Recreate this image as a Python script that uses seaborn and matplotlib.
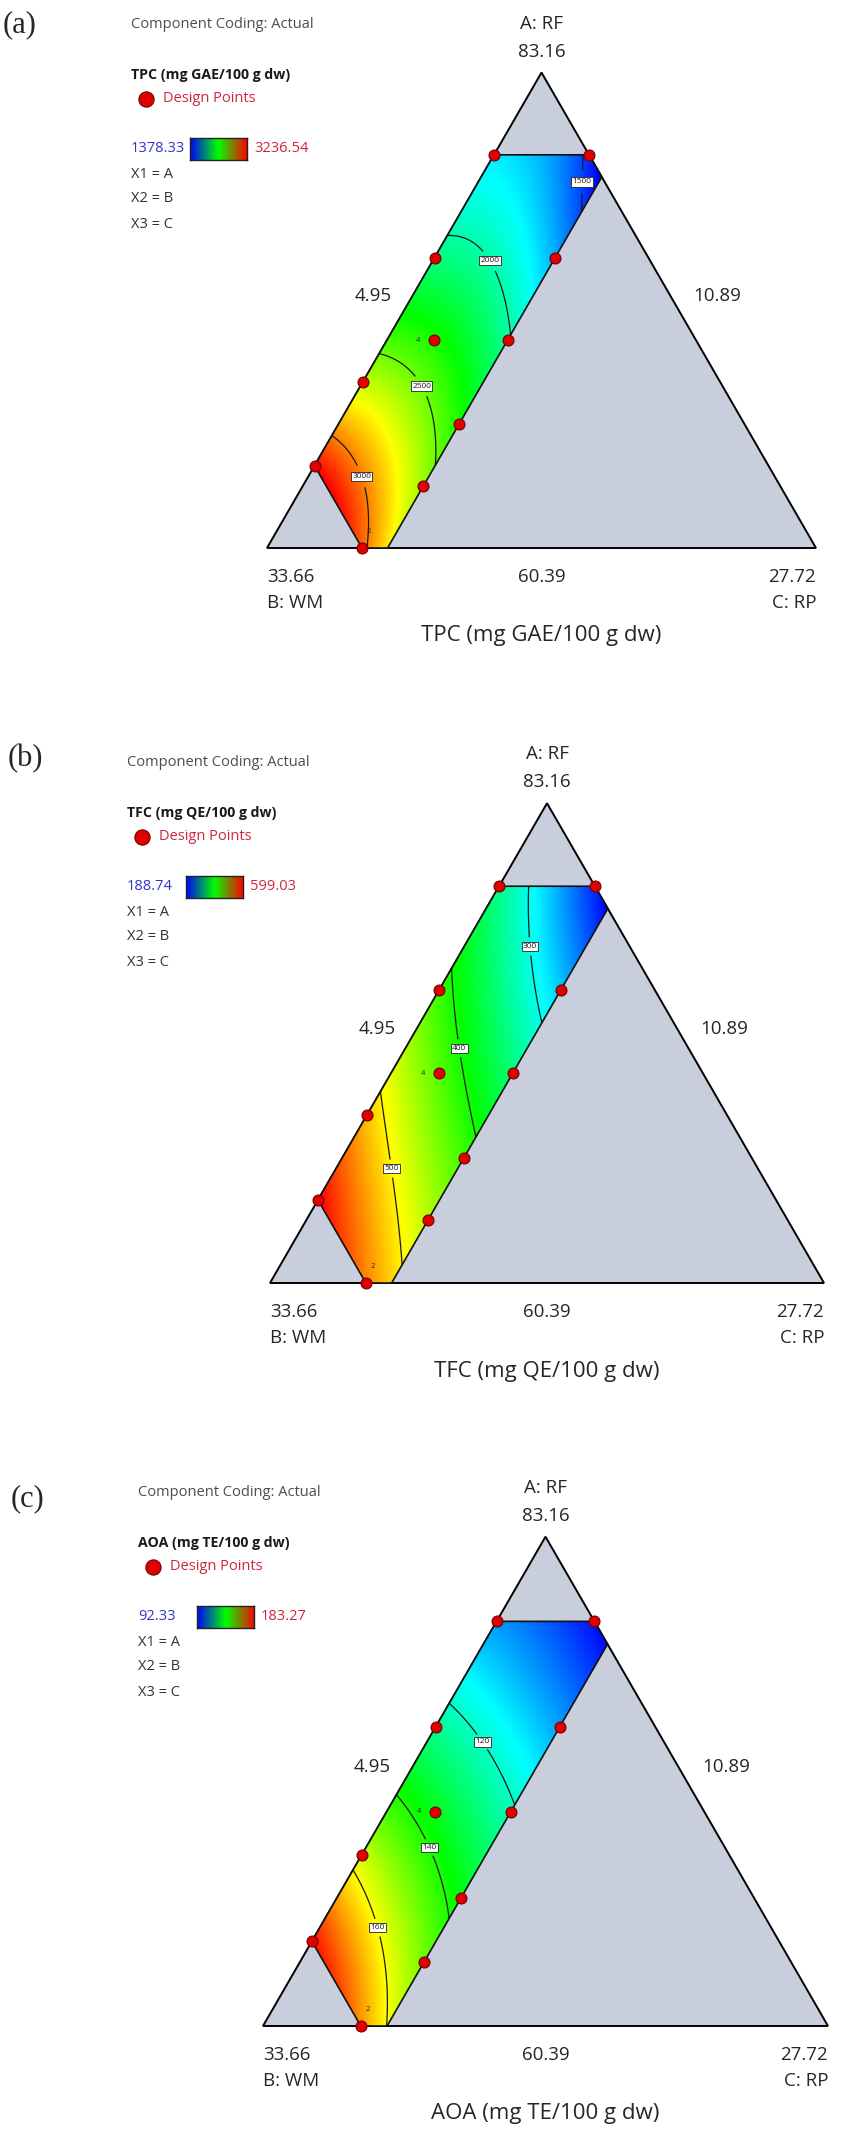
import numpy as np
import pandas as pd
import seaborn as sns
import matplotlib
matplotlib.use("Agg")
import matplotlib.pyplot as plt
from matplotlib.colors import LinearSegmentedColormap
from matplotlib.patches import Polygon

sns.set_theme(style="white")
plt.rcParams["font.family"] = ["Open Sans", "DejaVu Sans"]

W_PX, H_PX = 851, 2147
SQ = np.sqrt(3) / 2

# mixture bounds (actual units, total 99)
TOTAL = 99.0
LOWS = [60.39, 10.89, 4.95]
HIGHS = [79.22, 29.72, 9.95]
RNG = TOTAL - sum(LOWS)

# design points (actual amounts of A, B, C)
A_pts = [79.22, 79.22, 74.30, 74.30, 70.35, 70.35, 68.36, 66.33, 64.34, 63.37, 60.39]
B_pts = [14.83, 10.89, 19.75, 14.75, 21.75, 18.70, 25.69, 22.72, 29.71, 25.68, 29.72]
C_pts = [4.95, 8.89, 4.95, 9.95, 6.90, 9.95, 4.95, 9.95, 4.95, 9.95, 8.89]

# special-cubic model coefficients in pseudo components: a, b, c, ab, ac, bc, abc
coef_tpc = [1736.6, 3888.8, -2335.8, -2104.2, 3000.0, 1643.0, 10419.2]
coef_tfc = [286.7, 681.3, 335.5, -99.9, -628.4, -538.3, 861.9]
coef_aoa = [95.6, 211.6, 69.1, -67.3, 20.0, -119.6, 267.9]

levels_tpc = [1500, 2000, 2500, 3000]
levels_tfc = [300, 400, 500]
levels_aoa = [120, 140, 160]

panels = [
    dict(tag="(a)", resp="TPC (mg GAE/100 g dw)", lo="1378.33", hi="3236.54",
         vmin=1378.33, vmax=3236.54, levels=levels_tpc, coef=coef_tpc,
         lab=[(0.5665, 0.667), (0.412, 0.527), (0.287, 0.298), (0.1735, 0.131)],
         x0=267, base=548, w=549, lx=131, ly=24, tagx=3, tagy=25),
    dict(tag="(b)", resp="TFC (mg QE/100 g dw)", lo="188.74", hi="599.03",
         vmin=188.74, vmax=599.03, levels=levels_tfc, coef=coef_tfc,
         lab=[(0.474, 0.608), (0.345, 0.424), (0.216, 0.206)],
         x0=270, base=1283, w=554, lx=127, ly=762, tagx=8, tagy=759),
    dict(tag="(c)", resp="AOA (mg TE/100 g dw)", lo="92.33", hi="183.27",
         vmin=92.33, vmax=183.27, levels=levels_aoa, coef=coef_aoa,
         lab=[(0.3985, 0.51), (0.29, 0.314), (0.199, 0.173)],
         x0=263, base=2026, w=565, lx=138, ly=1492, tagx=11, tagy=1499),
]

surf_cmap = LinearSegmentedColormap.from_list(
    "de", ["#0000ff", "#00ffff", "#00ff00", "#ffff00", "#ff0000"])
bar_cmap = LinearSegmentedColormap.from_list("bar", ["#0000ff", "#00ff00", "#ff0000"])

fig = plt.figure(figsize=(W_PX / 100, H_PX / 100), dpi=100)
ov = fig.add_axes([0, 0, 1, 1])
ov.set_xlim(0, W_PX)
ov.set_ylim(H_PX, 0)
ov.axis("off")

am = (HIGHS[0] - LOWS[0]) / RNG
bm = (HIGHS[1] - LOWS[1]) / RNG
cm = (HIGHS[2] - LOWS[2]) / RNG
region = [(am, 0), (am, 1 - am), (1 - cm, cm), (0, cm), (0, 1 - bm), (1 - bm, 0)]  # (a, c)
region_xy = [(c + a / 2, a * SQ) for a, c in region]

pa = (np.array(A_pts) - LOWS[0]) / RNG
pc = (np.array(C_pts) - LOWS[2]) / RNG
pts = pd.DataFrame({"x": pc + pa / 2, "y": pa * SQ})

gx = np.linspace(0, 1, 700)
gy = np.linspace(0, SQ, 620)
X, Y = np.meshgrid(gx, gy)
GA = Y / SQ
GC = X - GA / 2
GB = 1 - GA - GC
inside = ((GA > -0.02) & (GA < am + 0.02) & (GB > -0.02) & (GB < bm + 0.02)
          & (GC > -0.02) & (GC < cm + 0.02))

for p in panels:
    h = p["w"] * SQ
    ax = fig.add_axes([p["x0"] / W_PX, 1 - p["base"] / H_PX, p["w"] / W_PX, h / H_PX])
    ax.set_xlim(0, 1)
    ax.set_ylim(0, SQ)
    ax.axis("off")
    ax.add_patch(Polygon([(0, 0), (1, 0), (0.5, SQ)], closed=True, fc="#c8cedc",
                         ec="black", lw=1.4, clip_on=False, zorder=1))
    k = p["coef"]
    Z = (k[0] * GA + k[1] * GB + k[2] * GC + k[3] * GA * GB + k[4] * GA * GC
         + k[5] * GB * GC + k[6] * GA * GB * GC)
    clip = Polygon(region_xy, closed=True, transform=ax.transData)
    im = ax.imshow(Z, extent=(0, 1, 0, SQ), origin="lower", cmap=surf_cmap,
                   vmin=p["vmin"], vmax=p["vmax"], aspect="auto", zorder=2,
                   interpolation="bilinear")
    im.set_clip_path(clip)
    Zm = np.ma.masked_where(~inside, Z)
    cs = ax.contour(X, Y, Zm, levels=p["levels"], colors="#1a1a1a", linewidths=0.9, zorder=3)
    cs.set_clip_path(clip)
    labels = ax.clabel(cs, fmt="%d", fontsize=6, inline=True, inline_spacing=2, manual=p["lab"])
    for t in labels:
        t.set_rotation(0)
        t.set_bbox(dict(boxstyle="square,pad=0.15", fc="white", ec="#222222", lw=0.6))
        t.set_zorder(6)
    ax.add_patch(Polygon(region_xy, closed=True, fill=False, ec="#111111", lw=1.2,
                         zorder=4, clip_on=False))
    sns.scatterplot(data=pts, x="x", y="y", ax=ax, s=62, color="#e00000", edgecolor="#700000",
                    linewidth=0.8, zorder=7, clip_on=False, legend=False)
    ax.text(pts.x[4] - 0.025, pts.y[4], "4", fontsize=5.5, ha="right", va="center", zorder=7)
    ax.text(pts.x[10] + 0.012, pts.y[10] + 0.03, "2", fontsize=5.5, ha="center", va="center", zorder=7)
    ax.set_xlim(0, 1)
    ax.set_ylim(0, SQ)

    # vertex / edge labels
    x0, base, w = p["x0"], p["base"], p["w"]
    xm = x0 + w / 2
    top = base - h
    fs = 13.5
    ov.text(xm, top - 49, "A: RF", ha="center", va="center", fontsize=fs)
    ov.text(xm, top - 21, "83.16", ha="center", va="center", fontsize=fs)
    ov.text(x0 + w * 0.193, top + h * 0.47, "4.95", ha="center", va="center", fontsize=fs)
    ov.text(x0 + w * 0.82, top + h * 0.47, "10.89", ha="center", va="center", fontsize=fs)
    ov.text(x0, base + 29, "33.66", ha="left", va="center", fontsize=fs)
    ov.text(x0, base + 55, "B: WM", ha="left", va="center", fontsize=fs)
    ov.text(xm, base + 29, "60.39", ha="center", va="center", fontsize=fs)
    ov.text(x0 + w, base + 29, "27.72", ha="right", va="center", fontsize=fs)
    ov.text(x0 + w, base + 55, "C: RP", ha="right", va="center", fontsize=fs)
    ov.text(xm, base + 88, p["resp"], ha="center", va="center", fontsize=16)

    # legend block
    lx, ly = p["lx"], p["ly"]
    ov.text(p["tagx"], p["tagy"], p["tag"], ha="left", va="center", fontsize=22,
            family=["Liberation Serif", "DejaVu Serif"])
    ov.text(lx, ly, "Component Coding: Actual", ha="left", va="center", fontsize=10.5, color="#4d4d4d")
    ov.text(lx, ly + 51, p["resp"], ha="left", va="center", fontsize=10.2,
            fontweight="bold", color="#1a1a1a")
    ov.scatter([lx + 15], [ly + 75], s=120, color="#e00000", edgecolor="#700000", linewidth=0.8)
    ov.text(lx + 32, ly + 75, "Design Points", ha="left", va="center", fontsize=10.5, color="#d0253f")
    ov.text(lx, ly + 125, p["lo"], ha="left", va="center", fontsize=10.5, color="#3333cc")
    bx0 = lx + 59
    cax = fig.add_axes([bx0 / W_PX, 1 - (ly + 136) / H_PX, 57 / W_PX, 22 / H_PX])
    cax.imshow(np.linspace(0, 1, 256)[None, :], cmap=bar_cmap, aspect="auto")
    cax.set_xticks([])
    cax.set_yticks([])
    for s in cax.spines.values():
        s.set_color("#222222")
        s.set_linewidth(1)
    ov.text(bx0 + 64, ly + 125, p["hi"], ha="left", va="center", fontsize=10.5, color="#d0253f")
    for i, s in enumerate(["X1 = A", "X2 = B", "X3 = C"]):
        ov.text(lx, ly + 150 + 25 * i, s, ha="left", va="center", fontsize=10.5, color="#333333")

fig.savefig("out.png", dpi=100)
